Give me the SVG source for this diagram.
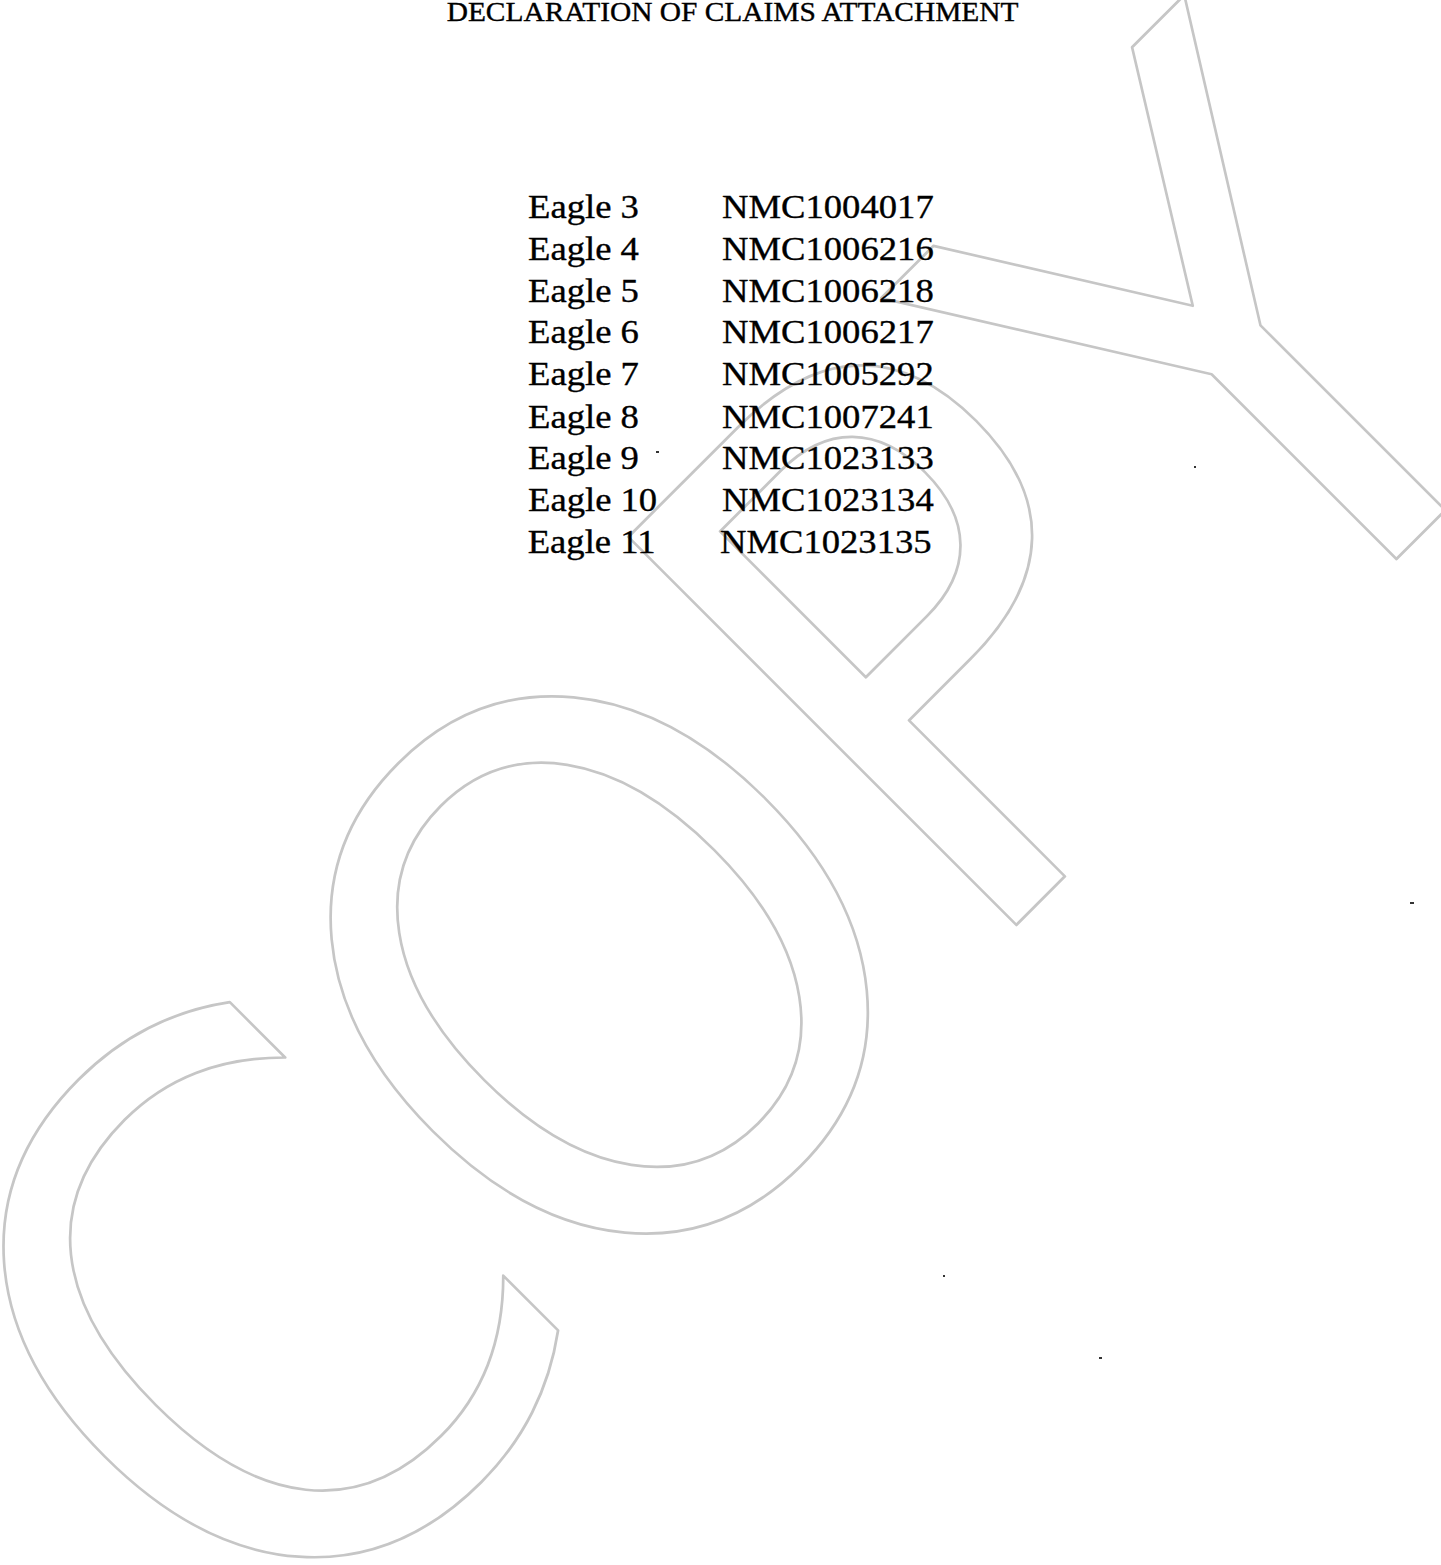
<svg xmlns="http://www.w3.org/2000/svg" width="1441" height="1565" viewBox="0 0 1441 1565">
<style>
.doc{font-family:"Liberation Serif","Times New Roman",serif;fill:#000;stroke:#000;stroke-width:0.35}
.row text{font-size:33px}
.wm{font-family:"DejaVu Sans",sans-serif;font-size:697px;fill:none;stroke:#c6c6c6;stroke-width:2.6;stroke-linejoin:round}
.speck{fill:#333}
</style>
<rect width="1441" height="1565" fill="#fff"/>
<g id="watermark">
<text class="wm" transform="rotate(-45) scale(1 1.08)" x="-995 -533 -3.8 413.8" y="1275.6 1277.8 1271 1280.3">COPY</text>
</g>
<g id="title" transform="scale(1.11 1)">
<text class="doc" x="660" y="21" font-size="26.5" text-anchor="middle">DECLARATION OF CLAIMS ATTACHMENT</text>
</g>
<g id="claims" class="doc" transform="scale(1.11 1)">
<g id="row-eagle3" class="row"><text x="475.7" y="217.7">Eagle 3</text><text x="650.5" y="217.7">NMC1004017</text></g>
<g id="row-eagle4" class="row"><text x="475.7" y="259.6">Eagle 4</text><text x="650.5" y="259.6">NMC1006216</text></g>
<g id="row-eagle5" class="row"><text x="475.7" y="301.6">Eagle 5</text><text x="650.5" y="301.6">NMC1006218</text></g>
<g id="row-eagle6" class="row"><text x="475.7" y="343.5">Eagle 6</text><text x="650.5" y="343.5">NMC1006217</text></g>
<g id="row-eagle7" class="row"><text x="475.7" y="385.5">Eagle 7</text><text x="650.5" y="385.5">NMC1005292</text></g>
<g id="row-eagle8" class="row"><text x="475.7" y="427.5">Eagle 8</text><text x="650.5" y="427.5">NMC1007241</text></g>
<g id="row-eagle9" class="row"><text x="475.7" y="469.4">Eagle 9</text><text x="650.5" y="469.4">NMC1023133</text></g>
<g id="row-eagle10" class="row"><text x="475.7" y="511.4">Eagle 10</text><text x="650.5" y="511.4">NMC1023134</text></g>
<g id="row-eagle11" class="row"><text x="475.4" y="553.3">Eagle 11</text><text x="648.6" y="553.3">NMC1023135</text></g>
</g>
<g id="specks">
<rect class="speck" x="656" y="451" width="3" height="2"/>
<rect class="speck" x="1194" y="466" width="2" height="2"/>
<rect class="speck" x="1410" y="902" width="4" height="2"/>
<rect class="speck" x="943" y="1275" width="2" height="2"/>
<rect class="speck" x="1099" y="1357" width="3" height="2"/>
</g>
</svg>
